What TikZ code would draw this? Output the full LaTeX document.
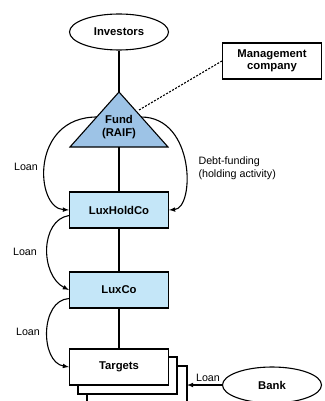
\documentclass[tikz,border=0pt]{standalone}
\usepackage{fontspec}
\setmainfont{Liberation Sans}
\tikzset{
entity/.style={draw,line width=1.1pt,minimum width=99pt,minimum height=36pt,font=\bfseries\fontsize{11.3}{12.5}\selectfont,align=center},
party/.style={entity,ellipse},
holdbox/.style={entity,fill=luxblue},
flow/.style={line width=1.1pt,-{latex[scale=1.15]}},
tag/.style={font=\fontsize{10.7}{12.7}\selectfont,align=left},
}
\usetikzlibrary{shapes.geometric,arrows.meta}
\definecolor{raifblue}{HTML}{9DC3E6}
\definecolor{luxblue}{HTML}{C4E6F8}
\begin{document}
\begin{tikzpicture}[x=1pt,y=-1pt]
\useasboundingbox (0,0) rectangle (324,401);
% stacked targets behind
\draw[line width=1.1pt,fill=white] (87,366) rectangle (187,420);
\draw[line width=1.1pt,fill=white] (78,357) rectangle (177,394);
\node[party] (investors) at (119,32) {Investors};
\node[entity,minimum height=36pt] (mgmt) at (272,61) {Management\\company};
% fund triangle
\coordinate (fund-top) at (119,92);
\coordinate (fund-l) at (70,147);
\coordinate (fund-r) at (168,147);
\coordinate (fund-b) at (119,147);
\coordinate (fund-e) at (139,110);
\node[holdbox] (luxhold) at (119,210) {LuxHoldCo};
\node[holdbox] (luxco) at (119,290) {LuxCo};
\node[entity,fill=white] (targets) at (119,367) {Targets};
\node[party] (bank) at (272,385) {Bank};
\coordinate (targets-back) at (187,385);
% curved loans
\draw[flow] (97,117) .. controls (30,117) and (35,208) .. (luxhold.west);
\draw[flow] (141,117) .. controls (195,117) and (195,208) .. (luxhold.east);
\draw[flow] (luxhold.south west) ++(0,-13) .. controls (40,220) and (40,275) .. (luxco.west);
\draw[flow] (luxco.south west) ++(0,-10) .. controls (40,300) and (40,362) .. (targets.west);
\draw[line width=1.1pt,fill=raifblue,line join=miter] (fund-top) -- (fund-r) -- (fund-l) -- cycle;
\node[font=\bfseries\fontsize{11.3}{12.5}\selectfont,align=center] (fund) at (119,127) {Fund\\(RAIF)};
\draw[line width=1.1pt] (investors.south) -- (fund-top);
\draw[line width=1.1pt] (fund-b) -- (luxhold.north);
\draw[line width=1.1pt] (luxhold.south) -- (luxco.north);
\draw[line width=1.1pt] (luxco.south) -- (targets.north);
\draw[line width=1.1pt,dash pattern=on 2pt off 1.5pt] (fund-e) -- (mgmt.west);
\draw[flow] (bank.west) -- (targets-back);
\node[tag] (l1) at (26,167) {Loan};
\node[tag] (l2) at (25,252) {Loan};
\node[tag] (l3) at (28,332) {Loan};
\node[tag] (l4) at (208,378) {Loan};
\node[tag,anchor=west] (debt) at (195,168) {Debt-funding\\(holding activity)};
\end{tikzpicture}
\end{document}
